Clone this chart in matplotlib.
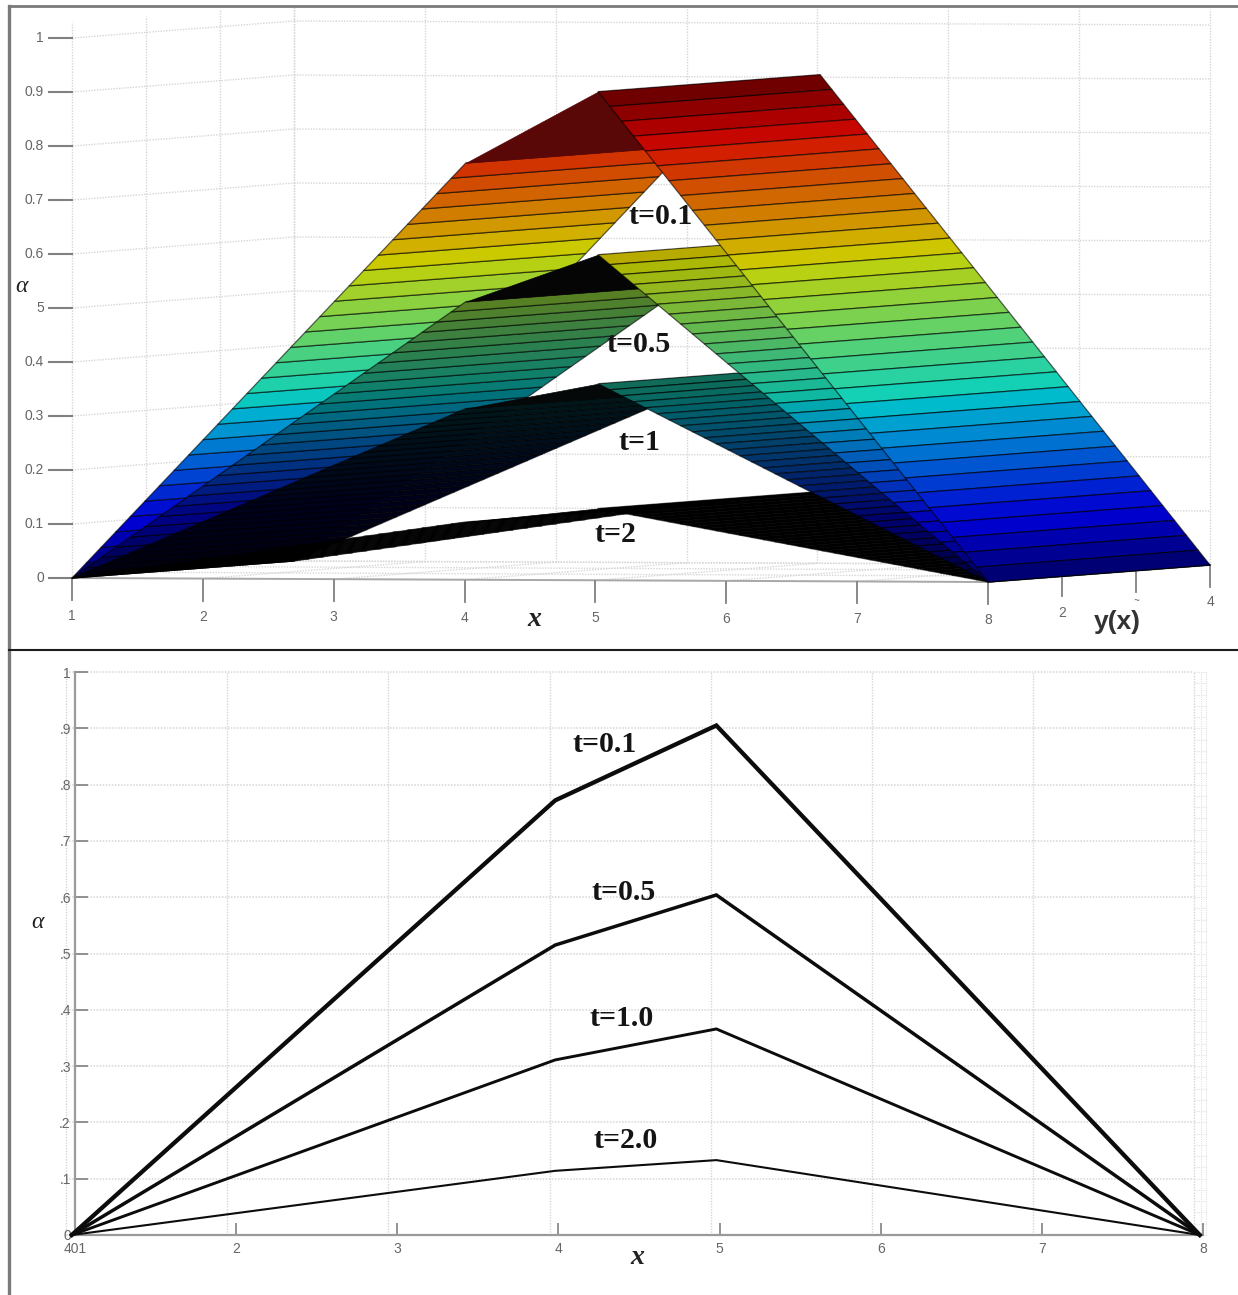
import numpy as np
import matplotlib
matplotlib.use("Agg")
import matplotlib.pyplot as plt
from matplotlib.collections import PolyCollection

W, H = 1238, 1295

# ---------- data ----------
x_nodes = [1, 4.01, 5.02, 8]
depth_range = [1, 4]
alpha_01 = [0, 0.772, 0.905, 0]
alpha_05 = [0, 0.515, 0.603, 0]
alpha_10 = [0, 0.317, 0.364, 0]
alpha_20 = [0, 0.107, 0.133, 0]
surface_labels = ["t=0.1", "t=0.5", "t=1", "t=2"]

x_flat = [0.98, 3.98, 4.98, 7.98]
flat_01 = [0, 0.772, 0.905, 0]
flat_05 = [0, 0.515, 0.604, 0]
flat_10 = [0, 0.311, 0.366, 0]
flat_20 = [0, 0.114, 0.133, 0]
flat_labels = ["t=0.1", "t=0.5", "t=1.0", "t=2.0"]

alpha_ticks_top = ["1", "0.9", "0.8", "0.7", "0.6", "5", "0.4", "0.3", "0.2", "0.1", "0"]
alpha_ticks_bottom = ["1", ".9", ".8", ".7", ".6", ".5", ".4", ".3", ".2", ".1", "0"]
x_ticks = [1, 2, 3, 4, 5, 6, 7, 8]
x_tick_labels_flat = ["401", "2", "3", "4", "5", "6", "7", "8"]

# ---------- canvas ----------
fig = plt.figure(figsize=(W / 100, H / 100), dpi=100, facecolor="white")

def px_axes(l, t, r, b, **kw):
    return fig.add_axes([l / W, 1 - b / H, (r - l) / W, (b - t) / H], **kw)

page = px_axes(0, 0, W, H)
page.set_xlim(0, W)
page.set_ylim(H, 0)
page.axis("off")
page.set_zorder(5)

GRID = "#d6d6d6"
TICK = "#808080"
LAB = "#666666"
SERIF = "Liberation Serif"
SANS = "Liberation Sans"
TICK_FS = 10


def project(x, y, a):
    x, y, a = np.asarray(x, float), np.asarray(y, float), np.asarray(a, float)
    return (72 + (x - 1) * 130.86 + (y - 1) * 74,
            578 + (x - 1) * 4 / 7 - (y - 1) * 5.67 - a * 540)


def seg(p0, p1, **kw):
    (x0, y0, a0), (x1, y1, a1) = p0, p1
    px, py = project([x0, x1], [y0, y1], [a0, a1])
    page.plot(px, py, **kw)


grid_kw = dict(color=GRID, lw=1.0, ls=(0, (1, 1)), zorder=1)
alpha_levels = np.arange(0, 1.01, 0.1)
for lv in alpha_levels:
    seg((1, 1, lv), (1, 4, lv), **grid_kw)
    seg((1, 4, lv), (8, 4, lv), **grid_kw)
for d in [1, 2, 3, 4]:
    seg((1, d, 0), (1, d, 1.03), **grid_kw)
    seg((1, d, 0), (8, d, 0), **grid_kw)
for xv in x_ticks:
    seg((xv, 4, 0), (xv, 4, 1.03), **grid_kw)
    seg((xv, 1, 0), (xv, 4, 0), **grid_kw)

seg((1, 1, 0), (8, 1, 0), color="#a8a8a8", lw=1.4, zorder=2)
seg((8, 1, 0), (8, 4, 0), color="#a8a8a8", lw=1.4, zorder=2)

# alpha axis ticks
for lv, s in zip(alpha_levels[::-1], alpha_ticks_top):
    px, py = project(1, 1, lv)
    page.plot([px - 23, px], [py, py], color=TICK, lw=1.5, zorder=2)
    page.text(px - 28, py, s, ha="right", va="center", fontsize=TICK_FS, color=LAB, family=SANS, zorder=6)
for xv in x_ticks:
    px, py = project(xv, 1, 0)
    page.plot([px, px], [py + 1, py + 22], color=TICK, lw=1.3, zorder=2)
    page.text(px, py + 38, str(xv), ha="center", va="center", fontsize=TICK_FS, color=LAB, family=SANS, zorder=6)
for d, s, off, tl in zip([2, 3, 4], ["2", "~", "4"], [37, 30, 37], [20, 21, 22]):
    px, py = project(8, d, 0)
    page.plot([px, px], [py + 1, py + tl], color=TICK, lw=1.3, zorder=2)
    page.text(px, py + off, s, ha="center", va="center", fontsize=TICK_FS if s != "~" else 7,
              color=LAB, family=SANS, zorder=6)


# surfaces
def band_polys(x0, x1, a0, a1, n):
    xs = np.linspace(x0, x1, n + 1)
    aa = np.linspace(a0, a1, n + 1)
    polys, mid = [], []
    for i in range(n):
        qx, qy = project([xs[i], xs[i + 1], xs[i + 1], xs[i]],
                         [depth_range[0], depth_range[0], depth_range[1], depth_range[1]],
                         [aa[i], aa[i + 1], aa[i + 1], aa[i]])
        polys.append(np.column_stack([qx, qy]))
        mid.append((aa[i] + aa[i + 1]) / 2)
    return polys, np.array(mid)


jet = plt.get_cmap("jet")
surfaces = [alpha_01, alpha_05, alpha_10, alpha_20]
left_shade = [0.82, 0.50, 0.10, 0.0]
right_shade = [0.82, 0.72, 0.42, 0.0]
ridge_color = ["#5a0707", "#050505", "#050808", "#000000"]


def add_face(a0, a1, x0, x1, n, shade, z):
    polys, mid = band_polys(x0, x1, a0, a1, n)
    cols = jet(mid / 0.9)
    cols[:, :3] *= shade
    pc = PolyCollection(polys, facecolors=cols, edgecolors=(0, 0, 0, 0.6), linewidths=0.9, zorder=z)
    page.add_collection(pc)


z = 10
for s, sh in zip(surfaces, left_shade):
    add_face(s[0], s[1], x_nodes[0], x_nodes[1], 27, sh, z)
    z += 1
for s, c in zip(surfaces, ridge_color):
    polys, _ = band_polys(x_nodes[1], x_nodes[2], s[1], s[2], 1)
    page.add_collection(PolyCollection(polys, facecolors=c, edgecolors=c, linewidths=0.5, zorder=z))
    z += 1
for i in [3, 2, 1, 0]:
    s = surfaces[i]
    add_face(s[2], s[3], x_nodes[2], x_nodes[3], 33, right_shade[i], z)
    z += 1

label_kw = dict(family=SERIF, weight="bold", ha="center", va="center", color="#141414", zorder=40)
LABEL_FS = 21.5
for s, (tx, ty) in zip(surface_labels, [(661, 217), (639, 345), (639, 442), (615, 534)]):
    page.text(tx, ty, s, fontsize=LABEL_FS, **label_kw)
page.text(534, 619, "x", fontsize=20, style="italic", family=SERIF, weight="bold",
          ha="center", va="center", color="#222222", zorder=40)
page.text(1117, 622, "y(x)", fontsize=19, family=SANS, weight="bold",
          ha="center", va="center", color="#333333", zorder=40)
page.text(21, 287, "α", fontsize=17, style="italic", family=SERIF, ha="center", va="center", color="#222222", zorder=40)

# ---------- bottom panel ----------
ax = px_axes(75, 672, 1203, 1235)
ax.set_xlim(1, 8)
ax.set_ylim(0, 1)
ax.patch.set_alpha(0)
for sp in ["top", "right"]:
    ax.spines[sp].set_visible(False)
for sp in ["left", "bottom"]:
    ax.spines[sp].set_color("#9a9a9a")
    ax.spines[sp].set_linewidth(1.6)

ax.set_yticks(np.arange(0, 1.01, 0.1))
ax.set_yticklabels(alpha_ticks_bottom[::-1], fontsize=TICK_FS, color=LAB, family=SANS)
ax.set_xticks(x_ticks)
ax.set_xticklabels(x_tick_labels_flat, fontsize=TICK_FS, color=LAB, family=SANS)
ax.tick_params(axis="y", direction="in", length=9, width=1.2, color=TICK, pad=3)
ax.tick_params(axis="x", direction="in", length=9, width=1.2, color=TICK, pad=5)

grid_offset = -0.055
for xv in x_ticks[1:]:
    ax.axvline(xv + grid_offset, color=GRID, lw=1.0, ls=(0, (1, 1)), zorder=1)
ax.axvline(1 - 0.055, color=GRID, lw=1.0, ls=(0, (1, 1)), zorder=1, clip_on=False)
for lv in alpha_levels:
    ax.plot([0.945, 7.945], [lv, lv], color=GRID, lw=1.1, ls=(0, (1, 1)), zorder=1, clip_on=False)
fine = np.arange(0, 1.001, 0.02)
ax.hlines(fine, 7.945, 8.02, color="#e2e2e2", lw=0.8, ls=(0, (1, 1)), zorder=1, clip_on=False)
for xv in [7.985, 8.02]:
    ax.axvline(xv, color="#e2e2e2", lw=0.8, ls=(0, (1, 1)), zorder=1, clip_on=False)

flat_series = [flat_01, flat_05, flat_10, flat_20]
widths = [3.1, 2.5, 2.1, 1.5]
for vals, lw in zip(flat_series, widths):
    ax.plot(x_flat, vals, color="#0c0c0c", lw=lw, solid_joinstyle="miter", zorder=5, clip_on=False)

for s, (tx, ty) in zip(flat_labels, [(605, 745), (624, 893), (622, 1018), (626, 1141)]):
    page.text(tx, ty, s, fontsize=LABEL_FS, **label_kw)
page.text(637, 1258, "x", fontsize=20, style="italic", family=SERIF, weight="bold",
          ha="center", va="center", color="#222222", zorder=40)
page.text(37, 922, "α", fontsize=17, style="italic", family=SERIF, ha="center", va="center", color="#222222", zorder=40)

# panel frame
page.plot([9, W], [6, 6], color="#7a7a7a", lw=2.0, zorder=50)
page.plot([9, 9], [6, H], color="#7a7a7a", lw=2.4, zorder=50)
page.plot([9, W], [650, 650], color="#1c1c1c", lw=1.5, zorder=50)

fig.savefig("out.png", dpi=100, facecolor="white")
